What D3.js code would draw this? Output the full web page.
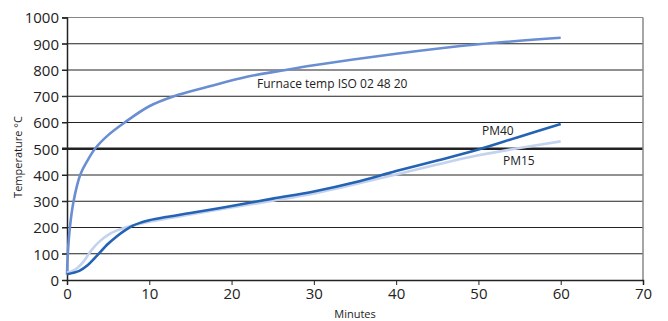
<!DOCTYPE html>
<html lang="en">
<head>
<script src="https://d3js.org/d3.v7.min.js"></script>
<style>
  body { margin: 0; background: #fff; }
  text { font-family: "Open Sans", "Noto Sans", sans-serif; fill: #222; }
</style>
</head>
<body>
<script>
// minutes / temperature
var furnaceT = [0, 0.1, 0.35, 0.8, 1.6, 2.4, 3.4, 5, 7, 10, 13, 17, 22, 26, 30, 40, 50, 60];
var furnaceV = [20, 100, 200, 300, 400, 450, 500, 552, 600, 662, 700, 735, 775, 797, 818, 862, 898, 923];
var pm40T = [0, 1.5, 2.5, 3.5, 5, 6, 7, 8, 9, 10, 12, 15, 20, 25, 30, 35, 40, 45, 50, 55, 60];
var pm40V = [22, 35, 56, 88, 138, 165, 188, 207, 219, 228, 240, 255, 282, 310, 337, 372, 415, 455, 497, 546, 594];
var pm15T = [0, 1, 2, 3, 4, 5, 6, 7, 8, 10, 15, 20, 25, 30, 35, 40, 45, 50, 55, 60];
var pm15V = [28, 40, 70, 115, 148, 172, 188, 199, 208, 222, 250, 276, 302, 330, 365, 402, 440, 475, 503, 528];
var xTicks = [0, 10, 20, 30, 40, 50, 60, 70];
var yTicks = [0, 100, 200, 300, 400, 500, 600, 700, 800, 900, 1000];

var width = 668, height = 321;
var svg = d3.select("body").append("svg")
  .attr("width", width)
  .attr("height", height);

var x = d3.scaleLinear().domain([0, 70]).range([67, 643]);
var y = d3.scaleLinear().domain([0, 1000]).range([280, 17.5]);

// grid
svg.append("g").selectAll("line")
  .data(yTicks.filter(function(d) { return d > 0; }))
  .enter().append("line")
  .attr("x1", 62).attr("x2", 643)
  .attr("y1", function(d) { return y(d); })
  .attr("y2", function(d) { return y(d); })
  .attr("stroke", function(d) { return d == 1000 ? "#888" : "#222"; })
  .attr("stroke-width", function(d) { return d == 500 ? 2.5 : 1; });

// right border
svg.append("line")
  .attr("x1", 643).attr("x2", 643)
  .attr("y1", y(1000)).attr("y2", y(0))
  .attr("stroke", "#888").attr("stroke-width", 1.5);

// axes
var yAxis = svg.append("g")
  .attr("transform", "translate(67,0)")
  .call(d3.axisLeft(y).tickValues(yTicks).tickFormat(d3.format("d")).tickSize(5).tickPadding(3));
var xAxis = svg.append("g")
  .attr("transform", "translate(0,280)")
  .call(d3.axisBottom(x).tickValues(xTicks).tickFormat(d3.format("d")).tickSize(5).tickPadding(3));
[xAxis, yAxis].forEach(function(a) {
  a.select(".domain").attr("stroke", "#222").attr("stroke-width", 1.5);
  a.selectAll(".tick line").attr("stroke", "#222");
  a.selectAll(".tick text")
    .attr("fill", "#222")
    .style("font-family", "'Open Sans', sans-serif")
    .style("font-size", "15px");
});
yAxis.selectAll(".tick text").attr("dy", "0.36em");

// lines
function series(ts, vs) {
  return ts.map(function(t, i) { return [t, vs[i]]; });
}
var line = d3.line()
  .x(function(d) { return x(d[0]); })
  .y(function(d) { return y(d[1]); })
  .curve(d3.curveCatmullRom.alpha(0.5));

var curves = [
  { data: series(furnaceT, furnaceV), color: "#6a8ed2" },
  { data: series(pm15T, pm15V), color: "#c3d3ee" },
  { data: series(pm40T, pm40V), color: "#2462b4" }
];
svg.selectAll("path.curve")
  .data(curves)
  .enter().append("path")
  .attr("class", "curve")
  .attr("fill", "none")
  .attr("stroke", function(d) { return d.color; })
  .attr("stroke-width", 2.6)
  .attr("d", function(d) { return line(d.data); });

// labels
svg.append("text").attr("x", 257).attr("y", 88)
  .style("font-size", "12px").text("Furnace temp ISO 02 48 20");
svg.append("text").attr("x", 482).attr("y", 135)
  .style("font-size", "12px").text("PM40");
svg.append("text").attr("x", 503).attr("y", 165)
  .style("font-size", "12px").text("PM15");

svg.append("text")
  .attr("transform", "translate(22,157) rotate(-90)")
  .attr("text-anchor", "middle")
  .style("font-size", "11px")
  .text("Temperature °C");
svg.append("text")
  .attr("x", 355).attr("y", 318)
  .attr("text-anchor", "middle")
  .style("font-size", "11px")
  .text("Minutes");
</script>
</body>
</html>
